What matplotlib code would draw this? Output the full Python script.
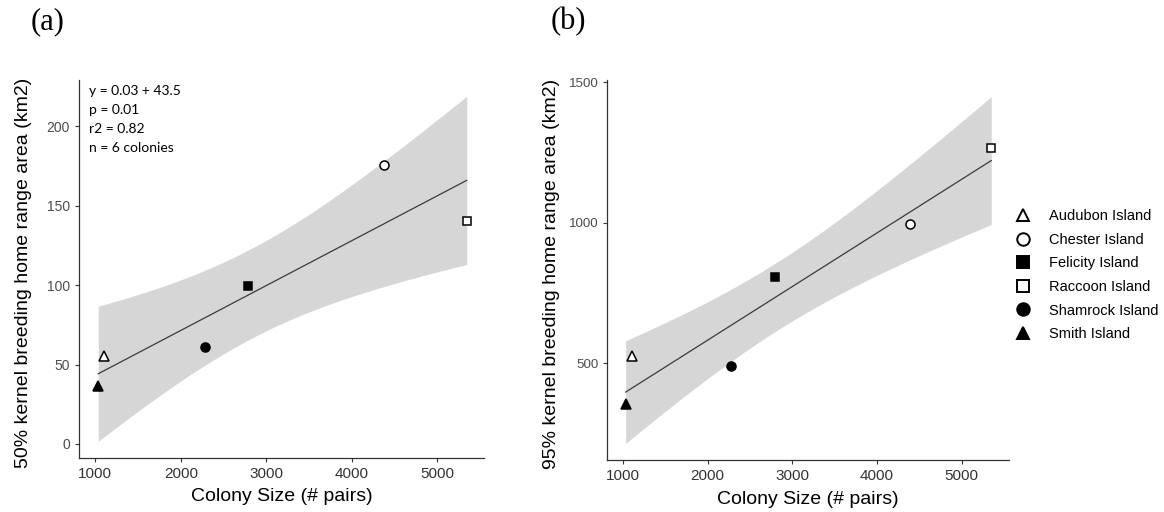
import numpy as np
import matplotlib
matplotlib.use("Agg")
import matplotlib.pyplot as plt
from matplotlib.lines import Line2D

plt.rcParams['font.family'] = ['Liberation Sans', 'DejaVu Sans']

# colonies and their symbols
colonies = ['Audubon Island', 'Chester Island', 'Felicity Island',
            'Raccoon Island', 'Shamrock Island', 'Smith Island']
markers = ['^', 'o', 's', 's', 'o', '^']
filled = [False, False, True, False, True, True]
sizes = {'^': 7.6, 'o': 6.5, 's': 5.8}

# colony size (# pairs)
colony_size = [1104, 4385, 2792, 5348, 2280, 1034]

# home range areas (km2)
area_50 = [55.3, 175.3, 99.2, 140.3, 61.2, 36.7]
area_95 = [526, 994, 808, 1265, 489, 354]

stats_text = ['y = 0.03 + 43.5', 'p = 0.01', 'r2 = 0.82', 'n = 6 colonies']

T_CRIT = 2.776  # t quantile, 0.975, df = 4


def lm_band(x, y):
    x = np.asarray(x, float)
    y = np.asarray(y, float)
    slope, icpt = np.polyfit(x, y, 1)
    resid = y - (icpt + slope * x)
    s = np.sqrt(np.sum(resid ** 2) / (len(x) - 2))
    xs = np.linspace(x.min(), x.max(), 200)
    fit = icpt + slope * xs
    se = s * np.sqrt(1 / len(x) + (xs - x.mean()) ** 2 / np.sum((x - x.mean()) ** 2))
    return xs, fit, fit - T_CRIT * se, fit + T_CRIT * se


def draw_panel(ax, y, ylabel, xlim, ylim, yticks, ytick_size):
    xs, fit, lo, hi = lm_band(colony_size, y)
    ax.fill_between(xs, lo, hi, color='#d6d6d6', lw=0, zorder=1)
    ax.plot(xs, fit, color='#3a3a3a', lw=0.9, zorder=2)
    for xi, yi, m, f in zip(colony_size, y, markers, filled):
        ax.plot(xi, yi, marker=m, ms=sizes[m], ls='none',
                mfc='black' if f else 'white', mec='black', mew=1.1, zorder=3)
    ax.set_xlim(*xlim)
    ax.set_ylim(*ylim)
    ax.set_xticks([1000, 2000, 3000, 4000, 5000])
    ax.set_yticks(yticks)
    for side in ['top', 'right']:
        ax.spines[side].set_visible(False)
    for side in ['left', 'bottom']:
        ax.spines[side].set_color('#333333')
        ax.spines[side].set_linewidth(0.9)
    ax.tick_params(length=3, width=0.8, color='#333333')
    ax.tick_params(axis='x', labelsize=11, labelcolor='#333333')
    ax.tick_params(axis='y', labelsize=ytick_size, labelcolor='#4d4d4d')
    ax.set_xlabel('Colony Size (# pairs)', fontsize=14)
    ax.set_ylabel(ylabel, fontsize=14)
    ax.xaxis.set_label_coords(0.5, -0.103)
    ax.xaxis.label.set_va('center')
    ax.yaxis.set_label_coords(-0.138, 0.49)
    ax.yaxis.label.set_va('center')


fig = plt.figure(figsize=(11.64, 5.12), dpi=100)
ax1 = fig.add_axes([0.0679, 0.1055, 0.3479, 0.7383])
ax2 = fig.add_axes([0.5218, 0.1016, 0.3451, 0.7422])

draw_panel(ax1, area_50, '50% kernel breeding home range area (km2)',
           (809, 5550), (-8.8, 229), [0, 50, 100, 150, 200], 10)
draw_panel(ax2, area_95, '95% kernel breeding home range area (km2)',
           (818, 5558), (156, 1508), [500, 1000, 1500], 9.6)

ax1.text(0.025, 0.988, '\n'.join(stats_text), transform=ax1.transAxes,
         va='top', ha='left', fontsize=10, family='Lato', linespacing=1.72)

fig.text(0.026, 0.957, '(a)', family='Liberation Serif', fontsize=22, va='center')
fig.text(0.473, 0.957, '(b)', family='Liberation Serif', fontsize=22, va='center')

handles = [Line2D([], [], marker=m, ls='none', ms=9 if m != 's' else 8,
                  mfc='black' if f else 'white', mec='black', mew=1.4)
           for m, f in zip(markers, filled)]
fig.legend(handles, colonies, loc='upper left', bbox_to_anchor=(0.866, 0.606),
           frameon=False, fontsize=10.5, handlelength=1.0, handletextpad=1.3,
           labelspacing=0.66, borderpad=0)

fig.savefig('out.png', dpi=100)
